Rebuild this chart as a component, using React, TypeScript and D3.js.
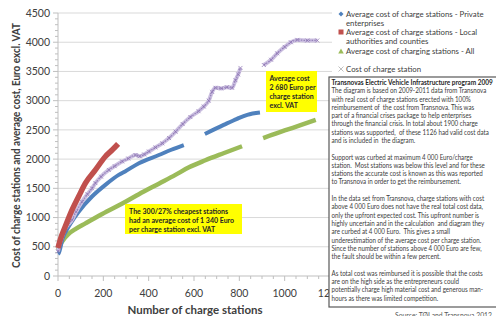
import React from 'react';
import * as d3 from 'd3';

// Average cost curves (cumulative average of stations sorted by cost), Euro excl. VAT
const privateCount = [0, 3, 20, 47, 91, 150, 209, 268, 296, 357, 445, 500, 555, null, 648, 731, 790, 835, 891];
const privateCost = [380, 390, 640, 845, 1100, 1360, 1560, 1730, 1790, 1930, 2070, 2160, 2240, null, 2430, 2585, 2690, 2757, 2796];

const localCount = [0, 10, 32, 62, 91, 121, 165, 209, 240, 265];
const localCost = [480, 620, 845, 1130, 1360, 1590, 1815, 2045, 2160, 2260];

const allCount = [0, 5, 20, 47, 80, 121, 195, 298, 357, 445, 518, 578, 650, 730, 812, null, 905, 1000, 1070, 1137];
const allCost = [440, 500, 600, 720, 810, 900, 1060, 1270, 1400, 1580, 1730, 1860, 1980, 2100, 2220, null, 2360, 2490, 2580, 2670];

// Cost of each individual station
const stationCount = [0, 5, 15, 30, 45, 62, 80, 106, 130, 150, 165, 190, 224, 250, 283, 310, 342, 360, 380, 401, 430, 460, 490, 519, 550, 584, 620, 643, 665, 680, 695, 720, 745, 768, 783, 795, 805, null, 908, 940, 967, 1000, 1027, 1056, 1100, 1144];
const stationCost = [420, 520, 640, 800, 880, 960, 1100, 1270, 1400, 1500, 1590, 1700, 1815, 1880, 1960, 2010, 2070, 2050, 2080, 2130, 2200, 2270, 2360, 2470, 2600, 2720, 2820, 2900, 3000, 3150, 3220, 3210, 3230, 3220, 3350, 3450, 3560, null, 3610, 3700, 3810, 3920, 4000, 4040, 4030, 4030];

const xTicks = [0, 200, 400, 600, 800, 1000, 1200];
const yTicks = [0, 500, 1000, 1500, 2000, 2500, 3000, 3500, 4000, 4500];

const legendItems = [
  ['Average cost of charge stations - Private', 'enterprises'],
  ['Average cost of charge stations - Local', 'authorities and counties'],
  ['Average cost of charging stations - All'],
  ['Cost of charge station'],
];

const noteTitle = 'Transnovas Electric Vehicle Infrastructure program 2009';
const noteLines = [
  'The diagram is based on 2009-2011 data from Transnova',
  'with real cost of charge stations erected with 100%',
  'reimbursement of  the cost from Transnova. This was',
  'part of a financial crises package to help enterprises',
  'through the financial crisis. In total about 1900 charge',
  'stations was supported,  of these 1126 had valid cost data',
  'and is included in  the diagram.',
  '',
  'Support was curbed at maximum 4 000 Euro/charge',
  'station.  Most stations was below this level and for these',
  'stations the accurate cost is known as this was reported',
  'to Transnova in order to get the reimbursement.',
  '',
  'In the data set from Transnova, charge stations with cost',
  'above 4 000 Euro does not have the real total cost data,',
  'only the upfront expected cost. This upfront number is',
  'highly uncertain and in the calculation  and diagram they',
  'are curbed at 4 000 Euro.  This gives a small',
  'underestimation of the average cost per charge station.',
  'Since the number of stations above 4 000 Euro are few,',
  'the fault should be within a few percent.',
  '',
  'As total cost was reimbursed it is possible that the costs',
  'are on the high side as the entrepreneurs could',
  'potentially charge high material cost and generous man-',
  'hours as there was limited competition.',
];

const calloutHigh = ['Average cost', '2 680 Euro per', 'charge station', 'excl. VAT'];
const calloutLow = ['The 300/27% cheapest stations', 'had an average cost of 1 340 Euro', 'per charge station excl. VAT'];

const font = 'Lato, "Open Sans", sans-serif';

export default function App() {
  const width = 504;
  const height = 324;
  const left = 58;
  const right = 332;
  const x = d3.scaleLinear().domain([0, 1200]).range([left, 330]);
  const y = d3.scaleLinear().domain([0, 4500]).range([276, 13]);

  const pairs = (xs: (number | null)[], ys: (number | null)[]) =>
    xs.map((c, i) => [c, ys[i]] as [number | null, number | null]);

  const line = d3.line<[number | null, number | null]>()
    .defined(d => d[0] != null && d[1] != null)
    .x(d => x(d[0] as number))
    .y(d => y(d[1] as number))
    .curve(d3.curveMonotoneX);

  const stations = pairs(stationCount, stationCost);
  const stationPath = line(stations) || '';
  const minorY = d3.range(0, 4501, 100);
  const minorX = d3.range(0, 1201, 50);

  return (
    <svg width={width} height={height} style={{ display: 'block', margin: '-8px' }} fontFamily={font}>
      <rect width={width} height={height} fill="#fff" />
      <line x1={0} x2={width} y1={1.5} y2={1.5} stroke="#a6a6a6" />

      {/* gridlines */}
      {yTicks.filter(v => v > 0).map(v => (
        <line key={v} x1={left} x2={right} y1={y(v)} y2={y(v)} stroke="#d9d9d9" />
      ))}

      {/* axes with minor ticks */}
      <line x1={left} x2={left} y1={y(4500)} y2={y(0)} stroke="#bfbfbf" />
      <line x1={left} x2={right} y1={y(0)} y2={y(0)} stroke="#bfbfbf" />
      {minorY.map(v => (
        <line key={v} x1={left - (v % 500 === 0 ? 5 : 3)} x2={left} y1={y(v)} y2={y(v)} stroke="#bfbfbf" />
      ))}
      {minorX.map(v => (
        <line key={v} x1={x(v)} x2={x(v)} y1={y(0)} y2={y(0) + (v % 200 === 0 ? 5 : 3)} stroke="#bfbfbf" />
      ))}

      {yTicks.map(v => (
        <text key={v} x={50} y={y(v)} dy="0.35em" textAnchor="end" fontSize={10.5} fill="#404040">{v}</text>
      ))}
      {xTicks.map(v => (
        <text key={v} x={x(v)} y={297} textAnchor="middle" fontSize={10.5} fill="#404040">{v}</text>
      ))}

      <text transform="translate(20,145.5) rotate(-90)" textAnchor="middle" fontSize={11} fontWeight="bold" fill="#404040"
        textLength={245} lengthAdjust="spacingAndGlyphs">
        Cost of charge stations and average cost, Euro excl. VAT
      </text>
      <text x={195} y={314} textAnchor="middle" fontSize={11.5} fontWeight="bold" fill="#404040">Number of charge stations</text>

      {/* series */}
      <path d={line(pairs(allCount, allCost)) || ''} fill="none" stroke="#9bbb59" strokeWidth={4.5} />
      <path d={line(pairs(privateCount, privateCost)) || ''} fill="none" stroke="#4f81bd" strokeWidth={4} />
      <path d={stationPath} fill="none" stroke="#cbbfe0" strokeWidth={4} />
      <path d={stationPath} fill="none" stroke="#9683bb" strokeWidth={1.2} strokeDasharray="1.5 1.2" />
      {stations.filter(d => d[0] != null).map((d, i) => {
        const cx = x(d[0] as number);
        const cy = y(d[1] as number);
        return (
          <path key={i} d={`M${cx - 2},${cy - 2}L${cx + 2},${cy + 2}M${cx - 2},${cy + 2}L${cx + 2},${cy - 2}`}
            stroke="#8a70b0" strokeWidth={0.7} />
        );
      })}
      <path d={line(pairs(localCount, localCost)) || ''} fill="none" stroke="#c0504d" strokeWidth={5.5} />

      {/* callouts */}
      <rect x={266} y={71} width={51} height={41} fill="#ffff00" />
      {calloutHigh.map((t, i) => (
        <text key={t} x={269.5} y={80.5 + i * 9} fontSize={7} fontWeight="bold" fill="#262626">{t}</text>
      ))}
      <rect x={125} y={204} width={117} height={30} fill="#ffff00" />
      {calloutLow.map((t, i) => (
        <text key={t} x={129} y={213.5 + i * 9} fontSize={7} fontWeight="bold" fill="#262626">{t}</text>
      ))}

      {/* legend */}
      <g fontSize={7.8} fill="#404040">
        <path d="M341,11.5L343.5,14L341,16.5L338.5,14Z" fill="#4f81bd" />
        <rect x={338.5} y={29.5} width={5} height={5} fill="#c0504d" />
        <path d="M341,48.5L343.8,53.5L338.2,53.5Z" fill="#9bbb59" />
        <path d="M338.5,66.5L343.5,71.5M338.5,71.5L343.5,66.5" stroke="#bfbfbf" strokeWidth={1} />
        {legendItems[0].map((t, i) => <text key={t} x={346} y={16.5 + i * 9}>{t}</text>)}
        {legendItems[1].map((t, i) => <text key={t} x={346} y={34.5 + i * 9}>{t}</text>)}
        <text x={346} y={53.5}>{legendItems[2][0]}</text>
        <text x={346} y={71.5}>{legendItems[3][0]}</text>
      </g>

      {/* note box, text squeezed horizontally to fit */}
      <rect x={329} y={77} width={168} height={230} fill="#fff" stroke="#595959" strokeWidth={1.2} />
      <text transform="translate(331.5,85) scale(0.94,1)" fontSize={6.9} fontWeight="bold" fill="#262626">{noteTitle}</text>
      <g transform="translate(331.5,0) scale(0.9,1)" fontSize={6.9} fill="#404040">
        {noteLines.map((t, i) => (
          <text key={i} x={0} y={85 + (i + 1) * 8.29} xmlSpace="preserve">{t}</text>
        ))}
      </g>

      <text x={395} y={318} fontSize={7.2} fill="#595959" textLength={97} lengthAdjust="spacingAndGlyphs">
        Source: TØI and Transnova 2012
      </text>
    </svg>
  );
}
